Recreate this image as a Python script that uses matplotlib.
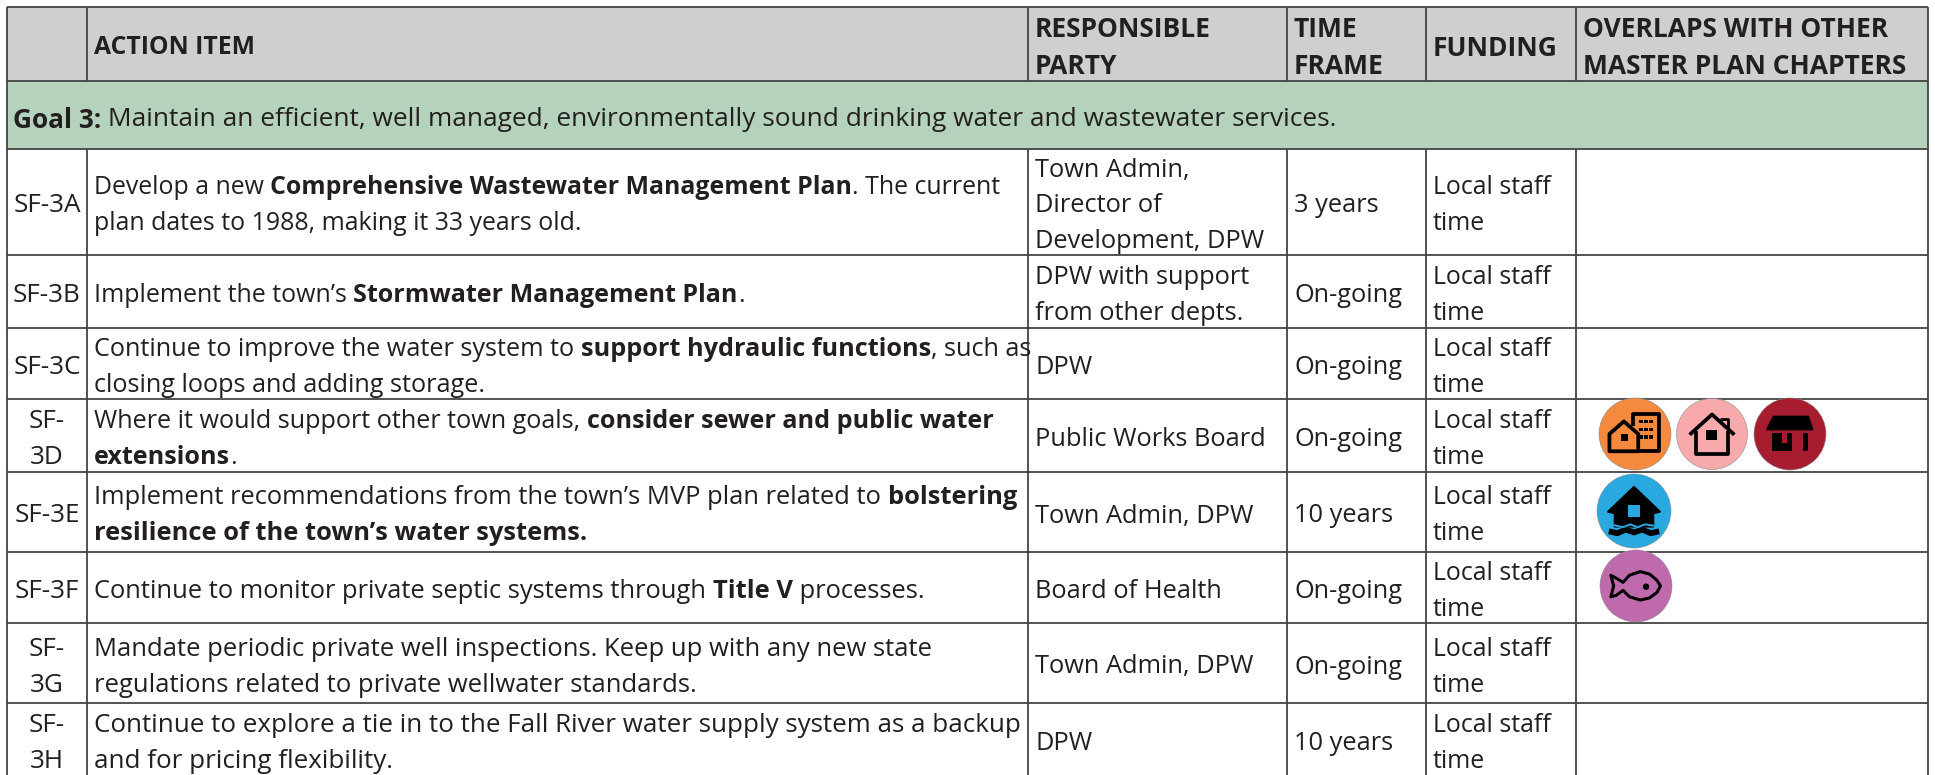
#!/usr/bin/env python3
"""Goal 3 action item table, drawn on one pixel-scaled axes."""

import matplotlib
matplotlib.use('Agg')
import matplotlib.pyplot as plt
from matplotlib.patches import Circle, Polygon, Rectangle

W, H = 1935, 775
FONT = 'Open Sans'
TEXT = '#231f20'
LINE = '#444444'

headers = ['', 'ACTION ITEM', 'RESPONSIBLE\nPARTY', 'TIME\nFRAME', 'FUNDING',
           'OVERLAPS WITH OTHER\nMASTER PLAN CHAPTERS']
goal = '**Goal 3:** Maintain an efficient, well managed, environmentally sound drinking water and wastewater services.'

ids = ['SF-3A', 'SF-3B', 'SF-3C', 'SF-\n3D', 'SF-3E', 'SF-3F', 'SF-\n3G', 'SF-\n3H']
actions = [
    'Develop a new **Comprehensive Wastewater Management Plan**. The current\nplan dates to 1988, making it 33 years old.',
    'Implement the town’s **Stormwater Management Plan**.',
    'Continue to improve the water system to **support hydraulic functions**, such as\nclosing loops and adding storage.',
    'Where it would support other town goals, **consider sewer and public water\nextensions**.',
    'Implement recommendations from the town’s MVP plan related to **bolstering\nresilience of the town’s water systems.**',
    'Continue to monitor private septic systems through **Title V** processes.',
    'Mandate periodic private well inspections. Keep up with any new state\nregulations related to private wellwater standards.',
    'Continue to explore a tie in to the Fall River water supply system as a backup\nand for pricing flexibility.',
]
parties = ['Town Admin,\nDirector of\nDevelopment, DPW', 'DPW with support\nfrom other depts.', 'DPW',
           'Public Works Board', 'Town Admin, DPW', 'Board of Health', 'Town Admin, DPW', 'DPW']
frames = ['3 years', 'On-going', 'On-going', 'On-going', '10 years', 'On-going', 'On-going', '10 years']
funding = ['Local staff\ntime'] * 8
icons = [[], [], [], ['housing', 'home', 'shop'], ['flood'], ['fish'], [], []]

# layout, in reference pixels
col_x = [7, 87, 1028, 1287, 1426, 1576, 1928]
row_y = [7, 81, 149, 255, 328, 399, 472, 552, 623, 703, 775]
LINE_PITCH = 36
HEAD_PITCH = 37
HEAD_FS = [19, 17.8, 19, 19, 19, 19]
GOAL_FS = 18.92
ID_FS = 18.8
ACTION_FS = [17.95, 18.0, 18.2, 18.1, 18.35, 18.35, 18.45, 18.75]
PARTY_FS = 18.3
FRAME_FS = 18.3
FUND_FS = 17.9
ICON_POS = {'housing': (1635, 434, 36), 'home': (1712, 434, 35.5), 'shop': (1790, 434, 36),
            'flood': (1634, 511, 37), 'fish': (1636, 586, 36)}
ICON_COL = {'housing': '#f58a3f', 'home': '#f7a9ab', 'shop': '#a81c30', 'flood': '#29a9e0', 'fish': '#c06aae'}


def text_w(ax, s, weight, fs):
    r = ax.figure.canvas.get_renderer()
    t = ax.text(0, 0, s + '|', family=FONT, fontsize=fs, fontweight=weight)
    a = t.get_window_extent(r).width
    t.set_text('|')
    b = t.get_window_extent(r).width
    t.remove()
    return a - b


def rich_line(ax, x, y, line, fs):
    parts = line.split('**')
    for i, part in enumerate(parts):
        if not part:
            continue
        weight = 'bold' if i % 2 else 'normal'
        ax.text(x, y, part, family=FONT, fontsize=fs, fontweight=weight, color=TEXT,
                va='center_baseline', ha='left')
        x += text_w(ax, part, weight, fs)


def cell(ax, x, top, bottom, s, fs, ha='left', weight='normal', pitch=LINE_PITCH, dy=1):
    # ** markers may open on one line and close on the next
    lines = s.split('\n')
    mid = (top + bottom) / 2 + dy
    y0 = mid - (len(lines) - 1) * pitch / 2
    bold = False
    for i, ln in enumerate(lines):
        y = y0 + i * pitch
        if ha == 'center':
            ax.text(x, y, ln, family=FONT, fontsize=fs, fontweight=weight, color=TEXT,
                    va='center_baseline', ha='center')
            continue
        if weight == 'bold':
            ln = '**' + ln + '**'
        if bold:
            ln = '**' + ln
        if ln.count('**') % 2:
            ln += '**'
            bold = not bold
        rich_line(ax, x, y, ln, fs)


def shape(ax, pts, cx, cy, r, fill=True, lw=2.7, closed=True, color='black', z=5):
    xy = [(cx + px * r, cy + py * r) for px, py in pts]
    ax.add_patch(Polygon(xy, closed=closed, fill=fill, facecolor=color if fill else 'none',
                         edgecolor=color, linewidth=lw, joinstyle='round', zorder=z))


def block(ax, cx, cy, r, x0, x1, y0, y1, color='black', z=5):
    ax.add_patch(Rectangle((cx + x0 * r, cy + y0 * r), (x1 - x0) * r, (y1 - y0) * r,
                           facecolor=color, edgecolor='none', zorder=z))


def draw_icon(ax, name):
    cx, cy, r = ICON_POS[name]
    ax.add_patch(Circle((cx, cy), r, facecolor=ICON_COL[name], edgecolor='#8a8a8a', linewidth=0.4, zorder=4))
    if name == 'housing':
        shape(ax, [(-.71, .48), (-.71, 0), (-.31, -.35), (.09, 0), (.09, .48)], cx, cy, r, fill=False)
        shape(ax, [(-.06, -.22), (-.06, -.55), (.67, -.55), (.67, .48), (.09, .48)], cx, cy, r,
              fill=False, closed=False)
        block(ax, cx, cy, r, -.4, -.2, -.01, .19)
        for dx in (.17, .31, .44):
            for dy in (-.35, -.13, .08):
                block(ax, cx, cy, r, dx - .05, dx + .05, dy - .05, dy + .05)
    elif name == 'home':
        shape(ax, [(-.46, -.08), (-.46, .56), (.46, .56), (.46, -.08)], cx, cy, r, fill=False, closed=False)
        shape(ax, [(-.63, .02), (0, -.55), (.63, .02)], cx, cy, r, fill=False, closed=False)
        shape(ax, [(.24, -.36), (.24, -.42), (.46, -.42), (.46, -.13)], cx, cy, r, fill=False, closed=False, lw=2)
        block(ax, cx, cy, r, -.16, .14, -.12, .18)
    elif name == 'shop':
        shape(ax, [(-.46, -.49), (.51, -.49), (.63, -.12), (-.65, -.12)], cx, cy, r, lw=1)
        block(ax, cx, cy, r, -.51, -.23, -.03, .48)
        block(ax, cx, cy, r, -.09, .06, -.03, .48)
        block(ax, cx, cy, r, -.51, .06, .25, .48)
        block(ax, cx, cy, r, .37, .51, -.03, .48)
    elif name == 'flood':
        shape(ax, [(-.7, .02), (0, -.65), (.7, .02), (.52, .06), (.52, .42), (-.52, .42), (-.52, .06)],
              cx, cy, r, lw=1.5)
        block(ax, cx, cy, r, -.15, .16, -.16, .15, color=ICON_COL[name], z=6)
        waves = [(-.68, .55), (-.45, .6), (-.22, .5), (0, .58), (.22, .5), (.45, .6), (.68, .55)]
        shape(ax, waves, cx, cy, r, fill=False, closed=False, lw=4.2, z=6)
        gaps = [(-.55, .38), (-.3, .44), (-.1, .36), (.1, .44), (.3, .36), (.55, .4)]
        shape(ax, gaps, cx, cy, r, fill=False, closed=False, lw=1.4, color=ICON_COL[name], z=6)
    elif name == 'fish':
        body = [(-.7, -.3), (-.52, -.2), (-.36, -.1), (-.18, -.3), (.12, -.4), (.38, -.33), (.58, -.16), (.68, 0),
                (.58, .18), (.38, .33), (.12, .39), (-.18, .3), (-.36, .12), (-.55, .26), (-.7, .3), (-.62, 0)]
        shape(ax, body, cx, cy, r, fill=False, lw=2.2)
        ax.add_patch(Circle((cx + .28 * r, cy + .02 * r), .07 * r, color='black', zorder=6))


def main():
    fig = plt.figure(figsize=(W / 100, H / 100), dpi=100)
    ax = fig.add_axes([0, 0, 1, 1])
    ax.set_xlim(0, W)
    ax.set_ylim(H, 0)
    ax.axis('off')
    fig.canvas.draw()

    left, right = col_x[0], col_x[-1]
    ax.add_patch(Rectangle((left, row_y[0]), right - left, row_y[1] - row_y[0], color='#cdcfd1', lw=0))
    ax.add_patch(Rectangle((left, row_y[1]), right - left, row_y[2] - row_y[1], color='#b5d3bc', lw=0))

    for y in row_y[:-1]:
        ax.plot([left, right], [y, y], color=LINE, lw=1.3, solid_capstyle='butt', zorder=3)
    for x in col_x:
        for top, bottom in ((row_y[0], row_y[1]), (row_y[2], row_y[-1])):
            ax.plot([x, x], [top, bottom], color=LINE, lw=1.3, solid_capstyle='butt', zorder=3)
    ax.plot([left, left], [row_y[1], row_y[2]], color=LINE, lw=1.3, zorder=3)
    ax.plot([right, right], [row_y[1], row_y[2]], color=LINE, lw=1.3, zorder=3)

    pad = 7
    for k, h in enumerate(headers):
        if h:
            cell(ax, col_x[k] + pad, row_y[0], row_y[1], h, HEAD_FS[k], weight='bold', pitch=HEAD_PITCH, dy=1)
    cell(ax, left + 6, row_y[1], row_y[2], goal, GOAL_FS, dy=2)

    for i in range(len(ids)):
        top, bottom = row_y[i + 2], row_y[i + 3]
        cell(ax, (col_x[0] + col_x[1]) / 2, top, bottom, ids[i], ID_FS, ha='center')
        cell(ax, col_x[1] + pad, top, bottom, actions[i], ACTION_FS[i])
        cell(ax, col_x[2] + pad, top, bottom, parties[i], PARTY_FS)
        cell(ax, col_x[3] + pad, top, bottom, frames[i], FRAME_FS)
        cell(ax, col_x[4] + pad, top, bottom, funding[i], FUND_FS)
        for name in icons[i]:
            draw_icon(ax, name)

    fig.savefig('out.png', dpi=100, facecolor='white')


if __name__ == '__main__':
    main()
